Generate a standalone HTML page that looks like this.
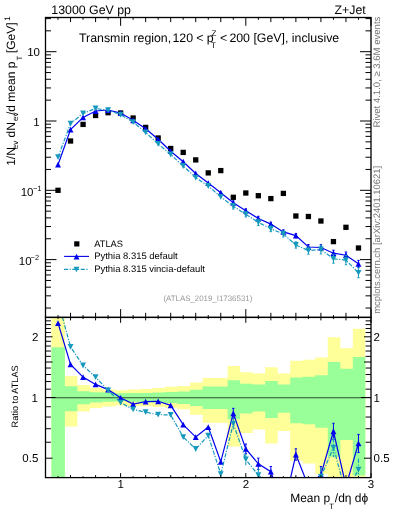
<!DOCTYPE html><html><head><meta charset="utf-8"><style>html,body{margin:0;padding:0;background:#fff;}svg{display:block;will-change:transform;}text{font-family:"Liberation Sans",sans-serif;text-rendering:geometricPrecision;}</style></head><body>
<svg width="393" height="512" viewBox="0 0 393 512">
<defs><clipPath id="ct"><rect x="45.5" y="17.5" width="325.5" height="299.9"/></clipPath>
<clipPath id="cr"><rect x="45.5" y="317.4" width="325.5" height="160.2"/></clipPath></defs>
<g clip-path="url(#cr)">
<path d="M51.4 317.3L64.88 317.3L64.88 376L77.4 376L77.4 385.1L89.92 385.1L89.92 388.1L102.44 388.1L102.44 389.5L114.96 389.5L114.96 390.3L127.47 390.3L127.47 389.5L139.99 389.5L139.99 389L152.51 389L152.51 388L165.03 388L165.03 386.8L177.55 386.8L177.55 385.9L190.07 385.9L190.07 382.6L202.59 382.6L202.59 378.1L215.11 378.1L215.11 378.1L227.63 378.1L227.63 366L240.15 366L240.15 372.2L252.67 372.2L252.67 373.6L265.19 373.6L265.19 367.3L277.71 367.3L277.71 373.4L290.23 373.4L290.23 360.8L302.74 360.8L302.74 359.7L315.26 359.7L315.26 357.4L327.78 357.4L327.78 337.2L340.3 337.2L340.3 348.2L352.82 348.2L352.82 328.7L365.34 328.7L365.34 477.7L352.82 477.7L352.82 477.7L340.3 477.7L340.3 477.7L327.78 477.7L327.78 474L315.26 474L315.26 463.6L302.74 463.6L302.74 460.5L290.23 460.5L290.23 431L277.71 431L277.71 443.5L265.19 443.5L265.19 429.5L252.67 429.5L252.67 433L240.15 433L240.15 446.6L227.63 446.6L227.63 422.7L215.11 422.7L215.11 422.7L202.59 422.7L202.59 414.7L190.07 414.7L190.07 409.3L177.55 409.3L177.55 407.8L165.03 407.8L165.03 407L152.51 407L152.51 406.3L139.99 406.3L139.99 406.3L127.47 406.3L127.47 405.5L114.96 405.5L114.96 406.5L102.44 406.5L102.44 407.9L89.92 407.9L89.92 411.5L77.4 411.5L77.4 426.5L64.88 426.5L64.88 477.7L51.4 477.7Z" fill="#ffff99"/>
<path d="M51.4 347.3L64.88 347.3L64.88 386.2L77.4 386.2L77.4 391.2L89.92 391.2L89.92 392.2L102.44 392.2L102.44 392.6L114.96 392.6L114.96 393.3L127.47 393.3L127.47 393L139.99 393L139.99 393L152.51 393L152.51 392.6L165.03 392.6L165.03 392L177.55 392L177.55 391.5L190.07 391.5L190.07 389.7L202.59 389.7L202.59 386.6L215.11 386.6L215.11 386.6L227.63 386.6L227.63 380.3L240.15 380.3L240.15 383.7L252.67 383.7L252.67 384.6L265.19 384.6L265.19 381L277.71 381L277.71 384.5L290.23 384.5L290.23 377.5L302.74 377.5L302.74 376.8L315.26 376.8L315.26 375.3L327.78 375.3L327.78 362.1L340.3 362.1L340.3 368.8L352.82 368.8L352.82 356.9L365.34 356.9L365.34 475.6L352.82 475.6L352.82 440L340.3 440L340.3 456.7L327.78 456.7L327.78 427.8L315.26 427.8L315.26 424.2L302.74 424.2L302.74 423.2L290.23 423.2L290.23 412.8L277.71 412.8L277.71 418L265.19 418L265.19 411.5L252.67 411.5L252.67 413.5L240.15 413.5L240.15 419.3L227.63 419.3L227.63 409L215.11 409L215.11 409L202.59 409L202.59 406L190.07 406L190.07 404L177.55 404L177.55 403L165.03 403L165.03 402.5L152.51 402.5L152.51 402.2L139.99 402.2L139.99 401.7L127.47 401.7L127.47 401.3L114.96 401.3L114.96 401.7L102.44 401.7L102.44 402.5L89.92 402.5L89.92 404.2L77.4 404.2L77.4 411.2L64.88 411.2L64.88 477.7L51.4 477.7Z" fill="#99ff99"/>
</g>
<line x1="45.5" y1="397.7" x2="371" y2="397.7" stroke="#000" stroke-opacity="0.7" stroke-width="1.1"/>
<g clip-path="url(#ct)">
<rect x="55.37" y="187.65" width="5.3" height="5.3" fill="#000"/>
<rect x="67.89" y="138.35" width="5.3" height="5.3" fill="#000"/>
<rect x="80.41" y="121.75" width="5.3" height="5.3" fill="#000"/>
<rect x="92.93" y="112.85" width="5.3" height="5.3" fill="#000"/>
<rect x="105.45" y="110.05" width="5.3" height="5.3" fill="#000"/>
<rect x="117.97" y="110.35" width="5.3" height="5.3" fill="#000"/>
<rect x="130.48" y="115.35" width="5.3" height="5.3" fill="#000"/>
<rect x="143" y="124.75" width="5.3" height="5.3" fill="#000"/>
<rect x="155.52" y="135.35" width="5.3" height="5.3" fill="#000"/>
<rect x="168.04" y="145.85" width="5.3" height="5.3" fill="#000"/>
<rect x="180.56" y="149.75" width="5.3" height="5.3" fill="#000"/>
<rect x="193.08" y="157.25" width="5.3" height="5.3" fill="#000"/>
<rect x="205.6" y="170.25" width="5.3" height="5.3" fill="#000"/>
<rect x="218.12" y="167.95" width="5.3" height="5.3" fill="#000"/>
<rect x="230.64" y="194.65" width="5.3" height="5.3" fill="#000"/>
<rect x="243.16" y="190.35" width="5.3" height="5.3" fill="#000"/>
<rect x="255.68" y="193.05" width="5.3" height="5.3" fill="#000"/>
<rect x="268.2" y="195.95" width="5.3" height="5.3" fill="#000"/>
<rect x="280.72" y="190.75" width="5.3" height="5.3" fill="#000"/>
<rect x="293.23" y="213.35" width="5.3" height="5.3" fill="#000"/>
<rect x="305.75" y="213.85" width="5.3" height="5.3" fill="#000"/>
<rect x="318.27" y="218.35" width="5.3" height="5.3" fill="#000"/>
<rect x="330.79" y="238.95" width="5.3" height="5.3" fill="#000"/>
<rect x="343.31" y="224.65" width="5.3" height="5.3" fill="#000"/>
<rect x="355.83" y="245.35" width="5.3" height="5.3" fill="#000"/>
<polyline points="58.02,164.7 70.54,129.6 83.06,117.4 95.58,111 108.1,110 120.62,113.1 133.13,120.25 145.65,128.8 158.17,139.3 170.69,151.2 183.21,161.7 195.73,173.5 208.25,183.05 220.77,192.7 233.29,202.75 245.81,210.65 258.33,218.5 270.85,224.1 283.37,231.9 295.88,235.6 308.4,247 320.92,247.5 333.44,253.2 345.96,255.2 358.48,263.8" fill="none" stroke="#0000ee" stroke-width="1.2"/>
<polygon points="58.02,161.8 60.97,167.6 55.07,167.6" fill="#0000ee"/>
<polygon points="70.54,126.7 73.49,132.5 67.59,132.5" fill="#0000ee"/>
<polygon points="83.06,114.5 86.01,120.3 80.11,120.3" fill="#0000ee"/>
<polygon points="95.58,108.1 98.53,113.9 92.63,113.9" fill="#0000ee"/>
<polygon points="108.1,107.1 111.05,112.9 105.15,112.9" fill="#0000ee"/>
<polygon points="120.62,110.2 123.57,116 117.67,116" fill="#0000ee"/>
<polygon points="133.13,117.35 136.08,123.15 130.18,123.15" fill="#0000ee"/>
<polygon points="145.65,125.9 148.6,131.7 142.7,131.7" fill="#0000ee"/>
<polygon points="158.17,136.4 161.12,142.2 155.22,142.2" fill="#0000ee"/>
<polygon points="170.69,148.3 173.64,154.1 167.74,154.1" fill="#0000ee"/>
<polygon points="183.21,158.8 186.16,164.6 180.26,164.6" fill="#0000ee"/>
<polygon points="195.73,170.6 198.68,176.4 192.78,176.4" fill="#0000ee"/>
<polygon points="208.25,180.15 211.2,185.95 205.3,185.95" fill="#0000ee"/>
<polygon points="220.77,189.8 223.72,195.6 217.82,195.6" fill="#0000ee"/>
<path d="M233.29 200.86V204.64M232.09 200.86h2.4M232.09 204.64h2.4" stroke="#0000ee" stroke-width="1" fill="none"/>
<polygon points="233.29,199.85 236.24,205.65 230.34,205.65" fill="#0000ee"/>
<path d="M245.81 208.83V212.47M244.61 208.83h2.4M244.61 212.47h2.4" stroke="#0000ee" stroke-width="1" fill="none"/>
<polygon points="245.81,207.75 248.76,213.55 242.86,213.55" fill="#0000ee"/>
<path d="M258.33 216.34V220.66M257.13 216.34h2.4M257.13 220.66h2.4" stroke="#0000ee" stroke-width="1" fill="none"/>
<polygon points="258.33,215.6 261.28,221.4 255.38,221.4" fill="#0000ee"/>
<path d="M270.85 222.13V226.07M269.65 222.13h2.4M269.65 226.07h2.4" stroke="#0000ee" stroke-width="1" fill="none"/>
<polygon points="270.85,221.2 273.8,227 267.9,227" fill="#0000ee"/>
<path d="M283.37 229.86V233.94M282.17 229.86h2.4M282.17 233.94h2.4" stroke="#0000ee" stroke-width="1" fill="none"/>
<polygon points="283.37,229 286.32,234.8 280.42,234.8" fill="#0000ee"/>
<path d="M295.88 233.44V237.76M294.68 233.44h2.4M294.68 237.76h2.4" stroke="#0000ee" stroke-width="1" fill="none"/>
<polygon points="295.88,232.7 298.83,238.5 292.93,238.5" fill="#0000ee"/>
<path d="M308.4 244.54V249.46M307.2 244.54h2.4M307.2 249.46h2.4" stroke="#0000ee" stroke-width="1" fill="none"/>
<polygon points="308.4,244.1 311.35,249.9 305.45,249.9" fill="#0000ee"/>
<path d="M320.92 244.47V250.53M319.72 244.47h2.4M319.72 250.53h2.4" stroke="#0000ee" stroke-width="1" fill="none"/>
<polygon points="320.92,244.6 323.87,250.4 317.97,250.4" fill="#0000ee"/>
<path d="M333.44 250.17V256.23M332.24 250.17h2.4M332.24 256.23h2.4" stroke="#0000ee" stroke-width="1" fill="none"/>
<polygon points="333.44,250.3 336.39,256.1 330.49,256.1" fill="#0000ee"/>
<path d="M345.96 251.99V258.41M344.76 251.99h2.4M344.76 258.41h2.4" stroke="#0000ee" stroke-width="1" fill="none"/>
<polygon points="345.96,252.3 348.91,258.1 343.01,258.1" fill="#0000ee"/>
<path d="M358.48 260.4V267.2M357.28 260.4h2.4M357.28 267.2h2.4" stroke="#0000ee" stroke-width="1" fill="none"/>
<polygon points="358.48,260.9 361.43,266.7 355.53,266.7" fill="#0000ee"/>
<polyline points="58.02,157.1 70.54,123.6 83.06,113.4 95.58,108.5 108.1,110.25 120.62,114.75 133.13,122.1 145.65,132.45 158.17,143.9 170.69,154.5 183.21,166 195.73,177.6 208.25,186 220.77,196.95 233.29,206.25 245.81,214.3 258.33,222.4 270.85,228.8 283.37,234 295.88,245 308.4,250.6 320.92,249.5 333.44,258.8 345.96,260.1 358.48,272.8" fill="none" stroke="#1799bd" stroke-width="1.2" stroke-dasharray="4.2,1.5,1.2,1.5"/>
<polygon points="58.02,160 60.97,154.2 55.07,154.2" fill="#1799bd"/>
<polygon points="70.54,126.5 73.49,120.7 67.59,120.7" fill="#1799bd"/>
<polygon points="83.06,116.3 86.01,110.5 80.11,110.5" fill="#1799bd"/>
<polygon points="95.58,111.4 98.53,105.6 92.63,105.6" fill="#1799bd"/>
<polygon points="108.1,113.15 111.05,107.35 105.15,107.35" fill="#1799bd"/>
<polygon points="120.62,117.65 123.57,111.85 117.67,111.85" fill="#1799bd"/>
<polygon points="133.13,125 136.08,119.2 130.18,119.2" fill="#1799bd"/>
<polygon points="145.65,135.35 148.6,129.55 142.7,129.55" fill="#1799bd"/>
<polygon points="158.17,146.8 161.12,141 155.22,141" fill="#1799bd"/>
<polygon points="170.69,157.4 173.64,151.6 167.74,151.6" fill="#1799bd"/>
<polygon points="183.21,168.9 186.16,163.1 180.26,163.1" fill="#1799bd"/>
<polygon points="195.73,180.5 198.68,174.7 192.78,174.7" fill="#1799bd"/>
<polygon points="208.25,188.9 211.2,183.1 205.3,183.1" fill="#1799bd"/>
<polygon points="220.77,199.85 223.72,194.05 217.82,194.05" fill="#1799bd"/>
<path d="M233.29 203.5V209M232.09 203.5h2.4M232.09 209h2.4" stroke="#1799bd" stroke-width="1" fill="none"/>
<polygon points="233.29,209.15 236.24,203.35 230.34,203.35" fill="#1799bd"/>
<path d="M245.81 211.66V216.94M244.61 211.66h2.4M244.61 216.94h2.4" stroke="#1799bd" stroke-width="1" fill="none"/>
<polygon points="245.81,217.2 248.76,211.4 242.86,211.4" fill="#1799bd"/>
<path d="M258.33 219.26V225.54M257.13 219.26h2.4M257.13 225.54h2.4" stroke="#1799bd" stroke-width="1" fill="none"/>
<polygon points="258.33,225.3 261.28,219.5 255.38,219.5" fill="#1799bd"/>
<path d="M270.85 225.94V231.66M269.65 225.94h2.4M269.65 231.66h2.4" stroke="#1799bd" stroke-width="1" fill="none"/>
<polygon points="270.85,231.7 273.8,225.9 267.9,225.9" fill="#1799bd"/>
<path d="M283.37 231.03V236.97M282.17 231.03h2.4M282.17 236.97h2.4" stroke="#1799bd" stroke-width="1" fill="none"/>
<polygon points="283.37,236.9 286.32,231.1 280.42,231.1" fill="#1799bd"/>
<path d="M295.88 241.86V248.14M294.68 241.86h2.4M294.68 248.14h2.4" stroke="#1799bd" stroke-width="1" fill="none"/>
<polygon points="295.88,247.9 298.83,242.1 292.93,242.1" fill="#1799bd"/>
<path d="M308.4 247.02V254.18M307.2 247.02h2.4M307.2 254.18h2.4" stroke="#1799bd" stroke-width="1" fill="none"/>
<polygon points="308.4,253.5 311.35,247.7 305.45,247.7" fill="#1799bd"/>
<path d="M320.92 245.1V253.9M319.72 245.1h2.4M319.72 253.9h2.4" stroke="#1799bd" stroke-width="1" fill="none"/>
<polygon points="320.92,252.4 323.87,246.6 317.97,246.6" fill="#1799bd"/>
<path d="M333.44 254.4V263.2M332.24 254.4h2.4M332.24 263.2h2.4" stroke="#1799bd" stroke-width="1" fill="none"/>
<polygon points="333.44,261.7 336.39,255.9 330.49,255.9" fill="#1799bd"/>
<path d="M345.96 255.42V264.78M344.76 255.42h2.4M344.76 264.78h2.4" stroke="#1799bd" stroke-width="1" fill="none"/>
<polygon points="345.96,263 348.91,257.2 343.01,257.2" fill="#1799bd"/>
<path d="M358.48 267.85V277.75M357.28 267.85h2.4M357.28 277.75h2.4" stroke="#1799bd" stroke-width="1" fill="none"/>
<polygon points="358.48,275.7 361.43,269.9 355.53,269.9" fill="#1799bd"/>
</g>
<g clip-path="url(#cr)">
<polyline points="58.02,323.03 70.54,364.34 83.06,377.14 95.58,384.41 108.1,389.65 120.62,397.79 133.13,404.05 145.65,401.57 158.17,401.28 170.69,405.35 183.21,424.55 195.73,437.06 208.25,427.03 220.77,461.79 233.29,413.35 245.81,448.85 258.33,463.83 270.85,471.68 283.37,509.5 295.88,454.52 308.4,486.23 320.92,474.59 333.44,431.25 345.96,486 358.48,443.46" fill="none" stroke="#0000ee" stroke-width="1.2"/>
<polygon points="58.02,320.13 60.97,325.93 55.07,325.93" fill="#0000ee"/>
<polygon points="70.54,361.44 73.49,367.24 67.59,367.24" fill="#0000ee"/>
<polygon points="83.06,374.24 86.01,380.04 80.11,380.04" fill="#0000ee"/>
<polygon points="95.58,381.51 98.53,387.31 92.63,387.31" fill="#0000ee"/>
<polygon points="108.1,386.75 111.05,392.55 105.15,392.55" fill="#0000ee"/>
<polygon points="120.62,394.89 123.57,400.69 117.67,400.69" fill="#0000ee"/>
<polygon points="133.13,401.15 136.08,406.95 130.18,406.95" fill="#0000ee"/>
<polygon points="145.65,398.67 148.6,404.47 142.7,404.47" fill="#0000ee"/>
<polygon points="158.17,398.38 161.12,404.18 155.22,404.18" fill="#0000ee"/>
<polygon points="170.69,402.45 173.64,408.25 167.74,408.25" fill="#0000ee"/>
<polygon points="183.21,421.65 186.16,427.45 180.26,427.45" fill="#0000ee"/>
<polygon points="195.73,434.16 198.68,439.96 192.78,439.96" fill="#0000ee"/>
<polygon points="208.25,424.13 211.2,429.93 205.3,429.93" fill="#0000ee"/>
<polygon points="220.77,458.89 223.72,464.69 217.82,464.69" fill="#0000ee"/>
<path d="M233.29 408.35V418.35M232.09 408.35h2.4M232.09 418.35h2.4" stroke="#0000ee" stroke-width="1" fill="none"/>
<polygon points="233.29,410.45 236.24,416.25 230.34,416.25" fill="#0000ee"/>
<path d="M245.81 444.05V453.65M244.61 444.05h2.4M244.61 453.65h2.4" stroke="#0000ee" stroke-width="1" fill="none"/>
<polygon points="245.81,445.95 248.76,451.75 242.86,451.75" fill="#0000ee"/>
<path d="M258.33 458.13V469.53M257.13 458.13h2.4M257.13 469.53h2.4" stroke="#0000ee" stroke-width="1" fill="none"/>
<polygon points="258.33,460.93 261.28,466.73 255.38,466.73" fill="#0000ee"/>
<path d="M270.85 466.48V476.88M269.65 466.48h2.4M269.65 476.88h2.4" stroke="#0000ee" stroke-width="1" fill="none"/>
<polygon points="270.85,468.78 273.8,474.58 267.9,474.58" fill="#0000ee"/>
<path d="M295.88 448.82V460.22M294.68 448.82h2.4M294.68 460.22h2.4" stroke="#0000ee" stroke-width="1" fill="none"/>
<polygon points="295.88,451.62 298.83,457.42 292.93,457.42" fill="#0000ee"/>
<path d="M320.92 466.59V482.59M319.72 466.59h2.4M319.72 482.59h2.4" stroke="#0000ee" stroke-width="1" fill="none"/>
<polygon points="320.92,471.69 323.87,477.49 317.97,477.49" fill="#0000ee"/>
<path d="M333.44 423.25V439.25M332.24 423.25h2.4M332.24 439.25h2.4" stroke="#0000ee" stroke-width="1" fill="none"/>
<polygon points="333.44,428.35 336.39,434.15 330.49,434.15" fill="#0000ee"/>
<path d="M358.48 434.46V452.46M357.28 434.46h2.4M357.28 452.46h2.4" stroke="#0000ee" stroke-width="1" fill="none"/>
<polygon points="358.48,440.56 361.43,446.36 355.53,446.36" fill="#0000ee"/>
<polyline points="58.02,300.92 70.54,346.88 83.06,365.5 95.58,377.14 108.1,390.37 120.62,402.59 133.13,409.43 145.65,412.19 158.17,414.66 170.69,414.95 183.21,437.06 195.73,448.99 208.25,435.61 220.77,474.15 233.29,423.54 245.81,459.46 258.33,475.17 270.85,485.35 283.37,515.61 295.88,481.86 308.4,496.7 320.92,476.8 333.44,447.54 345.96,492.92 358.48,469.65" fill="none" stroke="#1799bd" stroke-width="1.2" stroke-dasharray="4.2,1.5,1.2,1.5"/>
<polygon points="70.54,349.78 73.49,343.98 67.59,343.98" fill="#1799bd"/>
<polygon points="83.06,368.4 86.01,362.6 80.11,362.6" fill="#1799bd"/>
<polygon points="95.58,380.04 98.53,374.24 92.63,374.24" fill="#1799bd"/>
<polygon points="108.1,393.27 111.05,387.47 105.15,387.47" fill="#1799bd"/>
<polygon points="120.62,405.49 123.57,399.69 117.67,399.69" fill="#1799bd"/>
<polygon points="133.13,412.33 136.08,406.53 130.18,406.53" fill="#1799bd"/>
<polygon points="145.65,415.09 148.6,409.29 142.7,409.29" fill="#1799bd"/>
<polygon points="158.17,417.56 161.12,411.76 155.22,411.76" fill="#1799bd"/>
<polygon points="170.69,417.85 173.64,412.05 167.74,412.05" fill="#1799bd"/>
<polygon points="183.21,439.96 186.16,434.16 180.26,434.16" fill="#1799bd"/>
<polygon points="195.73,451.89 198.68,446.09 192.78,446.09" fill="#1799bd"/>
<polygon points="208.25,438.51 211.2,432.71 205.3,432.71" fill="#1799bd"/>
<path d="M220.77 471.15V477.15" stroke="#1799bd" stroke-width="1.1" fill="none" stroke-dasharray="4.2,1.5,1.2,1.5"/>
<polygon points="220.77,477.05 223.72,471.25 217.82,471.25" fill="#1799bd"/>
<path d="M233.29 417.54V429.54" stroke="#1799bd" stroke-width="1.1" fill="none" stroke-dasharray="4.2,1.5,1.2,1.5"/>
<polygon points="233.29,426.44 236.24,420.64 230.34,420.64" fill="#1799bd"/>
<path d="M245.81 453.7V465.22" stroke="#1799bd" stroke-width="1.1" fill="none" stroke-dasharray="4.2,1.5,1.2,1.5"/>
<polygon points="245.81,462.36 248.76,456.56 242.86,456.56" fill="#1799bd"/>
<path d="M258.33 468.33V482.01" stroke="#1799bd" stroke-width="1.1" fill="none" stroke-dasharray="4.2,1.5,1.2,1.5"/>
<polygon points="258.33,478.07 261.28,472.27 255.38,472.27" fill="#1799bd"/>
<path d="M320.92 467.2V486.4" stroke="#1799bd" stroke-width="1.1" fill="none" stroke-dasharray="4.2,1.5,1.2,1.5"/>
<polygon points="320.92,479.7 323.87,473.9 317.97,473.9" fill="#1799bd"/>
<path d="M333.44 437.94V457.14" stroke="#1799bd" stroke-width="1.1" fill="none" stroke-dasharray="4.2,1.5,1.2,1.5"/>
<polygon points="333.44,450.44 336.39,444.64 330.49,444.64" fill="#1799bd"/>
<path d="M358.48 458.85V480.45" stroke="#1799bd" stroke-width="1.1" fill="none" stroke-dasharray="4.2,1.5,1.2,1.5"/>
<polygon points="358.48,472.55 361.43,466.75 355.53,466.75" fill="#1799bd"/>
</g>
<path d="M45.5 17.5v4.6M45.5 317.4v-4.6M45.5 317.4v3M45.5 477.6v-2.5M58.02 17.5v2.3M58.02 317.4v-2.3M58.02 317.4v1.68M58.02 477.6v-1.4M70.54 17.5v4.6M70.54 317.4v-4.6M70.54 317.4v3M70.54 477.6v-2.5M83.06 17.5v2.3M83.06 317.4v-2.3M83.06 317.4v1.68M83.06 477.6v-1.4M95.58 17.5v4.6M95.58 317.4v-4.6M95.58 317.4v3M95.58 477.6v-2.5M108.1 17.5v2.3M108.1 317.4v-2.3M108.1 317.4v1.68M108.1 477.6v-1.4M120.62 17.5v8.3M120.62 317.4v-8.3M120.62 317.4v5.4M120.62 477.6v-4.5M133.13 17.5v2.3M133.13 317.4v-2.3M133.13 317.4v1.68M133.13 477.6v-1.4M145.65 17.5v4.6M145.65 317.4v-4.6M145.65 317.4v3M145.65 477.6v-2.5M158.17 17.5v2.3M158.17 317.4v-2.3M158.17 317.4v1.68M158.17 477.6v-1.4M170.69 17.5v4.6M170.69 317.4v-4.6M170.69 317.4v3M170.69 477.6v-2.5M183.21 17.5v2.3M183.21 317.4v-2.3M183.21 317.4v1.68M183.21 477.6v-1.4M195.73 17.5v4.6M195.73 317.4v-4.6M195.73 317.4v3M195.73 477.6v-2.5M208.25 17.5v2.3M208.25 317.4v-2.3M208.25 317.4v1.68M208.25 477.6v-1.4M220.77 17.5v4.6M220.77 317.4v-4.6M220.77 317.4v3M220.77 477.6v-2.5M233.29 17.5v2.3M233.29 317.4v-2.3M233.29 317.4v1.68M233.29 477.6v-1.4M245.81 17.5v8.3M245.81 317.4v-8.3M245.81 317.4v5.4M245.81 477.6v-4.5M258.33 17.5v2.3M258.33 317.4v-2.3M258.33 317.4v1.68M258.33 477.6v-1.4M270.85 17.5v4.6M270.85 317.4v-4.6M270.85 317.4v3M270.85 477.6v-2.5M283.37 17.5v2.3M283.37 317.4v-2.3M283.37 317.4v1.68M283.37 477.6v-1.4M295.88 17.5v4.6M295.88 317.4v-4.6M295.88 317.4v3M295.88 477.6v-2.5M308.4 17.5v2.3M308.4 317.4v-2.3M308.4 317.4v1.68M308.4 477.6v-1.4M320.92 17.5v4.6M320.92 317.4v-4.6M320.92 317.4v3M320.92 477.6v-2.5M333.44 17.5v2.3M333.44 317.4v-2.3M333.44 317.4v1.68M333.44 477.6v-1.4M345.96 17.5v4.6M345.96 317.4v-4.6M345.96 317.4v3M345.96 477.6v-2.5M358.48 17.5v2.3M358.48 317.4v-2.3M358.48 317.4v1.68M358.48 477.6v-1.4M371 17.5v8.3M371 317.4v-8.3M371 317.4v5.4M371 477.6v-4.5M45.5 308.04h5.5M371 308.04h-5.5M45.5 295.84h5.5M371 295.84h-5.5M45.5 287.18h5.5M371 287.18h-5.5M45.5 280.46h5.5M371 280.46h-5.5M45.5 274.97h5.5M371 274.97h-5.5M45.5 270.33h5.5M371 270.33h-5.5M45.5 266.32h5.5M371 266.32h-5.5M45.5 262.77h5.5M371 262.77h-5.5M45.5 259.6h11M371 259.6h-11M45.5 238.74h5.5M371 238.74h-5.5M45.5 226.54h5.5M371 226.54h-5.5M45.5 217.88h5.5M371 217.88h-5.5M45.5 211.16h5.5M371 211.16h-5.5M45.5 205.67h5.5M371 205.67h-5.5M45.5 201.03h5.5M371 201.03h-5.5M45.5 197.02h5.5M371 197.02h-5.5M45.5 193.47h5.5M371 193.47h-5.5M45.5 190.3h11M371 190.3h-11M45.5 169.44h5.5M371 169.44h-5.5M45.5 157.24h5.5M371 157.24h-5.5M45.5 148.58h5.5M371 148.58h-5.5M45.5 141.86h5.5M371 141.86h-5.5M45.5 136.37h5.5M371 136.37h-5.5M45.5 131.73h5.5M371 131.73h-5.5M45.5 127.72h5.5M371 127.72h-5.5M45.5 124.17h5.5M371 124.17h-5.5M45.5 121h11M371 121h-11M45.5 100.14h5.5M371 100.14h-5.5M45.5 87.94h5.5M371 87.94h-5.5M45.5 79.28h5.5M371 79.28h-5.5M45.5 72.56h5.5M371 72.56h-5.5M45.5 67.07h5.5M371 67.07h-5.5M45.5 62.43h5.5M371 62.43h-5.5M45.5 58.42h5.5M371 58.42h-5.5M45.5 54.87h5.5M371 54.87h-5.5M45.5 51.7h11M371 51.7h-11M45.5 30.84h5.5M371 30.84h-5.5M45.5 18.64h5.5M371 18.64h-5.5M45.5 458.19h7M371 458.19h-7M45.5 442.22h5.4M371 442.22h-5.4M45.5 428.73h5.4M371 428.73h-5.4M45.5 417.04h5.4M371 417.04h-5.4M45.5 406.72h5.4M371 406.72h-5.4M45.5 397.5h10M371 397.5h-10M45.5 389.16h5.4M371 389.16h-5.4M45.5 381.54h5.4M371 381.54h-5.4M45.5 374.53h5.4M371 374.53h-5.4M45.5 368.04h5.4M371 368.04h-5.4M45.5 362h7M371 362h-7M45.5 356.35h5.4M371 356.35h-5.4M45.5 351.04h5.4M371 351.04h-5.4M45.5 346.04h5.4M371 346.04h-5.4M45.5 341.3h5.4M371 341.3h-5.4M45.5 336.81h7M371 336.81h-7M45.5 332.54h5.4M371 332.54h-5.4M45.5 328.47h5.4M371 328.47h-5.4M45.5 324.58h5.4M371 324.58h-5.4M45.5 320.85h5.4M371 320.85h-5.4" stroke="#000" stroke-width="1" fill="none"/>
<rect x="45.5" y="17.5" width="325.5" height="299.9" fill="none" stroke="#000" stroke-width="1.3"/>
<rect x="45.5" y="317.4" width="325.5" height="160.2" fill="none" stroke="#000" stroke-width="1.3"/>
<text x="51.3" y="14.1" font-size="12.35" fill="#000">13000 GeV pp</text>
<text x="365.7" y="13.7" font-size="12.35" fill="#000" text-anchor="end">Z+Jet</text>
<text x="79" y="42.2" font-size="12.35" fill="#000">Transmin region,<tspan x="172.45">120</tspan><tspan x="196.3">&lt;</tspan><tspan x="206.7">p</tspan><tspan font-size="8" x="211.4" y="36.2">Z</tspan><tspan font-size="8" x="210.9" y="48.1">T</tspan><tspan x="219.9" y="42.2">&lt;</tspan><tspan x="229.4" y="42.2">200 [GeV], inclusive</tspan></text>
<text x="40" y="55.8" font-size="11.5" text-anchor="end">10</text>
<text x="39.6" y="125.8" font-size="11.5" text-anchor="end">1</text>
<text x="20.65" y="195.6" font-size="11.5">10<tspan font-size="7.5" x="32.9" y="190.9">&#8722;1</tspan></text>
<text x="18.85" y="264.6" font-size="11.5">10<tspan font-size="7.5" x="30.6" y="259.9">&#8722;2</tspan></text>
<text x="38.5" y="341" font-size="11.5" text-anchor="end">2</text>
<text x="38" y="401.6" font-size="11.5" text-anchor="end">1</text>
<text x="38.3" y="462.3" font-size="11.5" text-anchor="end">0.5</text>
<text x="373.6" y="341" font-size="11.5">2</text>
<text x="373.6" y="401.6" font-size="11.5">1</text>
<text x="373.6" y="462.3" font-size="11.5">0.5</text>
<text x="120.8" y="488.4" font-size="11.5" text-anchor="middle">1</text>
<text x="246" y="488.4" font-size="11.5" text-anchor="middle">2</text>
<text x="371" y="488.4" font-size="11.5" text-anchor="middle">3</text>
<text x="290.2" y="501.7" font-size="12" fill="#000">Mean p<tspan font-size="7.8" x="329.2" y="509.3">T</tspan><tspan x="334.8" y="501.7">/d&#951; d&#981;</tspan></text>
<text transform="translate(15.1,165.8) rotate(-90)" font-size="12"><tspan x="0" y="0">1/N</tspan><tspan font-size="8" x="16.6" y="3">ev</tspan><tspan x="25" y="0"> dN</tspan><tspan font-size="8" x="44.9" y="3">ev</tspan><tspan x="50.8" y="0">/d mean p</tspan><tspan font-size="7.5" x="105.2" y="6.6">T</tspan><tspan x="109.4" y="0"> [GeV]</tspan><tspan font-size="8" x="145.1" y="-5.6">1</tspan></text>
<text transform="translate(18.1,427.4) rotate(-90)" font-size="9.2">Ratio to ATLAS</text>
<text transform="translate(379.8,127.5) rotate(-90)" font-size="9.55" fill="#767676">Rivet 4.1.0, &#8805; 3.6M events</text>
<text transform="translate(379.8,313.8) rotate(-90)" font-size="9.45" fill="#767676">mcplots.cern.ch [arXiv:2401.10621]</text>
<rect x="74.2" y="241.3" width="5.2" height="5.2" fill="#000"/>
<text x="94.2" y="246.7" font-size="9.3">ATLAS</text>
<line x1="64.1" y1="256.4" x2="89" y2="256.4" stroke="#0000ee" stroke-width="1.1"/>
<polygon points="76.55,253.75 79.45,259.45 73.65,259.45" fill="#0000ee"/>
<text x="94.2" y="258.8" font-size="9.45">Pythia 8.315 default</text>
<line x1="63.9" y1="269.3" x2="89" y2="269.3" stroke="#1799bd" stroke-width="1.15" stroke-dasharray="4.2,1.5,1.2,1.5"/>
<polygon points="76.5,272.35 79.4,266.85 73.6,266.85" fill="#1799bd"/>
<text x="94.2" y="271.8" font-size="9.45">Pythia 8.315 vincia-default</text>
<text x="163.4" y="301.4" font-size="7.9" fill="#999">(ATLAS_2019_I1736531)</text>
</svg></body></html>
